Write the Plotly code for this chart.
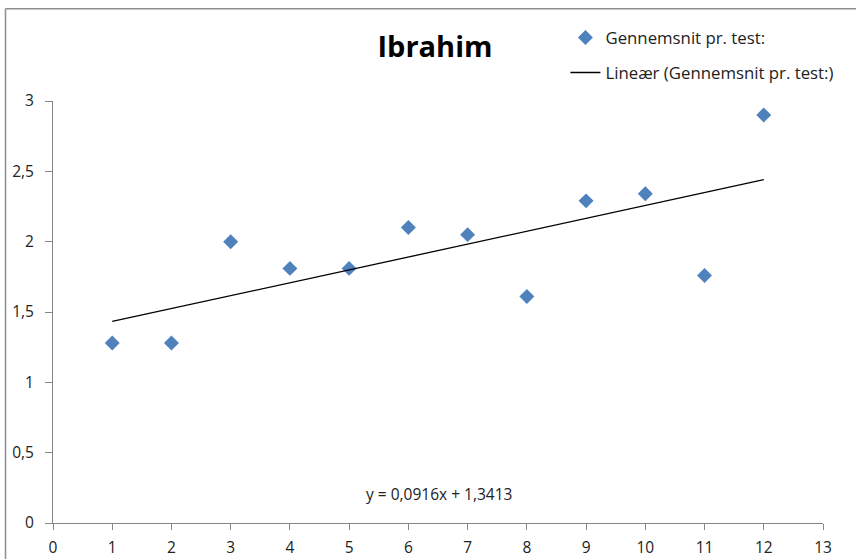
import plotly.graph_objects as go

# Data
test_nr = [1, 2, 3, 4, 5, 6, 7, 8, 9, 10, 11, 12]
gennemsnit = [1.28, 1.28, 2.0, 1.81, 1.81, 2.10, 2.05, 1.61, 2.29, 2.34, 1.76, 2.90]
slope = 0.0916
intercept = 1.3413
trend_x = [test_nr[0], test_nr[-1]]
trend_y = [slope * x + intercept for x in trend_x]

x_ticks = list(range(0, 14))
y_ticks = [0, 0.5, 1, 1.5, 2, 2.5, 3]

FONT = "Open Sans"
axis_col = "#868686"

fig = go.Figure()
fig.add_trace(go.Scatter(
    x=test_nr, y=gennemsnit, mode="markers", name="Gennemsnit pr. test:",
    marker=dict(symbol="diamond", size=11.5, color="#4F81BD"),
    legend="legend",
))
fig.add_trace(go.Scatter(
    x=trend_x, y=trend_y, mode="lines", name="Lineær (Gennemsnit pr. test:)",
    line=dict(color="black", width=1.3),
    legend="legend2",
))

fig.update_layout(
    width=856, height=559,
    margin=dict(l=52.5, r=33.4, t=100.5, b=35.5, autoexpand=False),
    paper_bgcolor="white", plot_bgcolor="white",
    separators=", ",
    font=dict(family=FONT, size=15, color="#222"),
    title=dict(text="<b>Ibrahim</b>", x=(435) / 856, xanchor="center",
               y=1 - 47 / 559, yanchor="middle",
               font=dict(family=FONT, size=29, color="black")),
    legend=dict(x=(565 - 52.5) / 770.1, y=(523.5 - 37) / 423, xanchor="left", yanchor="middle",
                bgcolor="rgba(0,0,0,0)", font=dict(size=16.8, color="#222")),
    legend2=dict(x=(565 - 52.5) / 770.1, y=(523.5 - 72) / 423, xanchor="left", yanchor="middle",
                 bgcolor="rgba(0,0,0,0)", font=dict(size=16.8, color="#222")),
    xaxis=dict(range=[0, 13], tickvals=x_ticks, showgrid=False, zeroline=False,
               showline=True, linecolor=axis_col, linewidth=1, automargin=False,
               ticks="outside", ticklen=6, tickcolor=axis_col,
               ticklabelstandoff=4, tickfont=dict(size=15.5)),
    yaxis=dict(range=[0, 3], tickvals=y_ticks, showgrid=False, zeroline=False,
               showline=True, linecolor=axis_col, linewidth=1, automargin=False,
               ticks="outside", ticklen=7, tickcolor=axis_col,
               ticklabelstandoff=8, tickfont=dict(size=15.5)),
    showlegend=True,
)

fig.add_annotation(
    x=6.51, y=0.209, xref="x", yref="y", showarrow=False,
    text="y = 0,0916x + 1,3413", font=dict(size=15.5, color="#222"),
)

# Outer chart border (top and left visible)
bx0 = (5 - 52.5) / 770.1
by_top = (523.5 - 8) / 423
fig.add_shape(type="line", xref="paper", yref="paper", x0=bx0, x1=1.1, y0=by_top, y1=by_top,
              line=dict(color="#8c8c8c", width=1.5))
fig.add_shape(type="line", xref="paper", yref="paper", x0=bx0, x1=bx0, y0=by_top, y1=-0.2,
              line=dict(color="#8c8c8c", width=1.5))

fig.write_html("out.html")
